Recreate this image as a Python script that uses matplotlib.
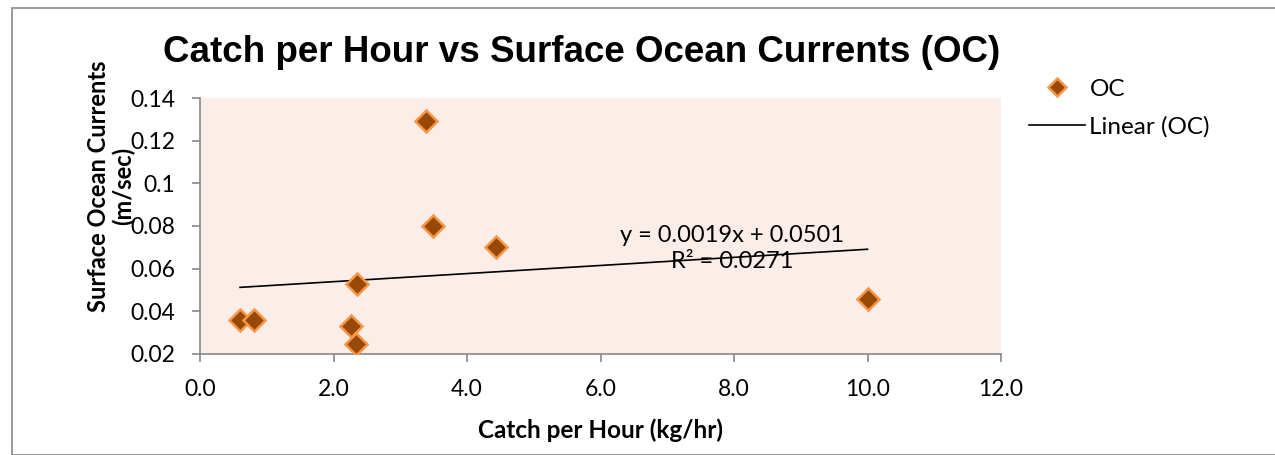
import matplotlib.pyplot as plt
import matplotlib.patches as mpatches
import numpy as np

# data
catch_per_hour = [0.60, 0.81, 2.26, 2.34, 2.35, 3.39, 3.49, 4.43, 10.0]
ocean_current = [0.036, 0.036, 0.033, 0.0245, 0.053, 0.129, 0.080, 0.070, 0.046]
trend_slope = 0.0019
trend_intercept = 0.0501
trend_label = "y = 0.0019x + 0.0501\nR² = 0.0271"
x_ticks = [0, 2, 4, 6, 8, 10, 12]
y_ticks = [0.02, 0.04, 0.06, 0.08, 0.1, 0.12, 0.14]
y_tick_labels = ["0.02", "0.04", "0.06", "0.08", "0.1", "0.12", "0.14"]

body_font = ["Lato", "DejaVu Sans"]
fig = plt.figure(figsize=(12.75, 4.55), dpi=100)

# outer chart border
fig.patches.append(mpatches.Rectangle((12 / 1275, 0.0), 1.0, 1 - 8 / 455,
                                      transform=fig.transFigure, fill=False,
                                      edgecolor="#888888", linewidth=1.2))

ax = fig.add_axes([200 / 1275, 101 / 455, 801 / 1275, 256 / 455])
ax.set_facecolor("#FBEDE8")

ax.plot(catch_per_hour, ocean_current, linestyle="none", marker="D",
        markersize=11.5, markerfacecolor="#984807", markeredgecolor="#F79646",
        markeredgewidth=1.8, label="OC", zorder=3)

xs = np.array([min(catch_per_hour), max(catch_per_hour)])
ax.plot(xs, trend_slope * xs + trend_intercept, color="black", linewidth=1.2,
        label="Linear (OC)", zorder=2)

ax.text(7.97, 0.0693, trend_label, ha="center", va="center", fontsize=17,
        family=body_font, linespacing=1.3)

ax.set_xlim(0, 12)
ax.set_ylim(0.02, 0.14)
ax.set_xticks(x_ticks)
ax.set_xticklabels([f"{v:.1f}" for v in x_ticks], family=body_font, fontsize=16.5)
ax.set_yticks(y_ticks)
ax.set_yticklabels(y_tick_labels, family=body_font, fontsize=16.5)
ax.tick_params(direction="out", length=6, width=1.2, color="#888888", pad=12)

for side in ["top", "right"]:
    ax.spines[side].set_visible(False)
for side in ["left", "bottom"]:
    ax.spines[side].set_color("#888888")
    ax.spines[side].set_linewidth(1.2)

ax.set_xlabel("Catch per Hour (kg/hr)", family=body_font, fontsize=17.5,
              fontweight="bold", labelpad=13)
fig.text(111 / 1275, 1 - 186 / 455, "Surface Ocean Currents\n(m/sec)", rotation=90,
         ha="center", va="center", family=body_font, fontsize=17,
         fontweight="bold", linespacing=1.1)

fig.text(582 / 1275, 1 - 52 / 455, "Catch per Hour vs Surface Ocean Currents (OC)",
         ha="center", va="center", family=["Liberation Sans", "DejaVu Sans"],
         fontsize=26.5, fontweight="bold")

fig.legend(loc="upper left", bbox_to_anchor=(1019 / 1275, 1 - 69 / 455),
           frameon=False, prop={"family": body_font, "size": 17.5},
           handlelength=2.3, handletextpad=0.2, labelspacing=0.68,
           markerscale=0.8, borderaxespad=0, borderpad=0.4)

fig.savefig("out.png", dpi=100)
